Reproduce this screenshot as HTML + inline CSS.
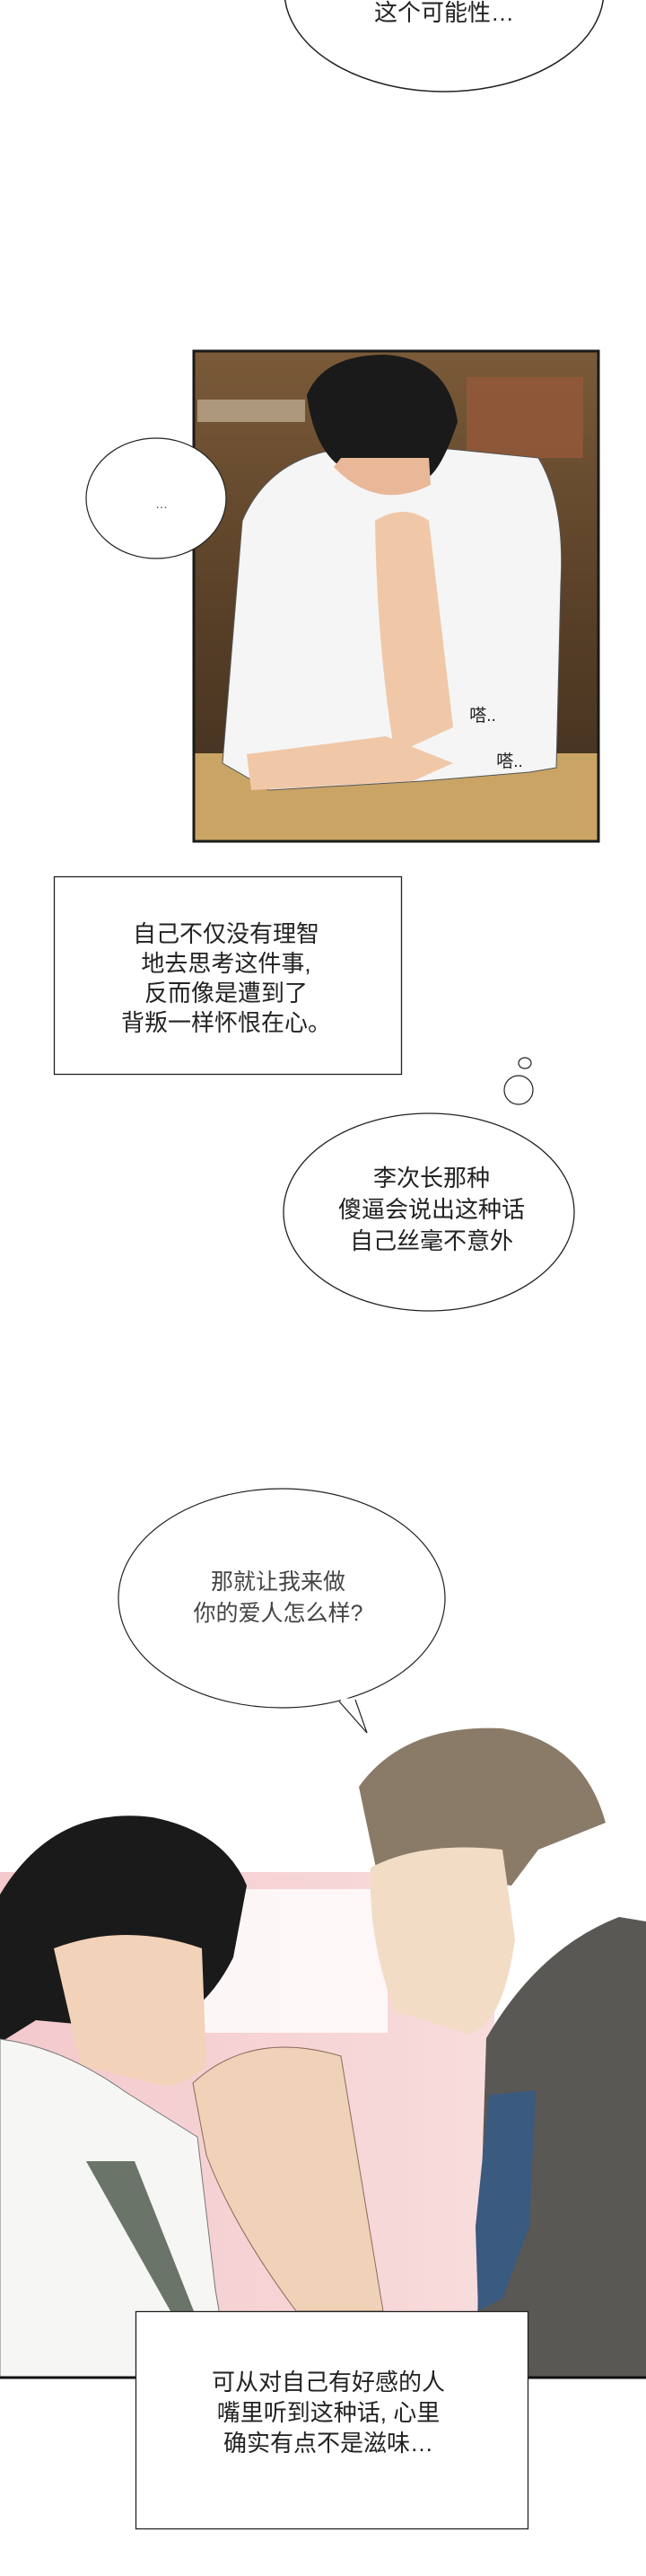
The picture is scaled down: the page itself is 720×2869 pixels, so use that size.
<!DOCTYPE html>
<html><head><meta charset="utf-8"><style>
html,body{margin:0;padding:0;background:#fff;}
body{width:720px;height:2869px;position:relative;overflow:hidden;font-family:"Liberation Sans","Noto Sans CJK SC",sans-serif;}
.t{position:absolute;text-align:center;color:#222;white-space:nowrap;}
</style></head><body>
<svg width="720" height="2869" style="position:absolute;left:0;top:0" xmlns="http://www.w3.org/2000/svg">
<defs>
<linearGradient id="bg1" x1="0" y1="0" x2="0" y2="1"><stop offset="0" stop-color="#7a5a38"/><stop offset="0.5" stop-color="#5a4128"/><stop offset="1" stop-color="#3e2e1e"/></linearGradient>
<linearGradient id="pk" x1="0" y1="0" x2="1" y2="0"><stop offset="0" stop-color="#f3c9cc"/><stop offset="1" stop-color="#f8dcdc"/></linearGradient>
</defs>
<!-- top bubble -->
<ellipse cx="495" cy="-10" rx="178" ry="112" fill="#fff" stroke="#222" stroke-width="1.5"/>
<!-- panel 1 -->
<rect x="216" y="391" width="451" height="546" fill="url(#bg1)"/>
<rect x="220" y="445" width="120" height="25" fill="#c8b59a" opacity="0.7"/>
<rect x="520" y="420" width="130" height="90" fill="#9a5a3a" opacity="0.7"/>
<rect x="216" y="839" width="451" height="98" fill="#c9a464"/>
<!-- shirt -->
<path d="M270 580 Q300 510 380 500 L500 500 L600 510 Q630 560 625 650 L620 855 L590 860 L470 870 L300 880 L248 850 Z" fill="#f5f5f5" stroke="#555" stroke-width="1"/>
<path d="M418 580 Q450 560 478 580 L505 810 L440 840 Q420 720 418 580 Z" fill="#f0c8a8"/>
<path d="M275 840 L430 820 L505 850 L460 870 L280 880 Z" fill="#f0c8a8"/>
<!-- hair -->
<path d="M342 440 Q360 395 430 395 Q500 400 510 470 Q490 530 470 536 L380 520 Q350 500 342 440 Z" fill="#1a1a1a"/>
<path d="M372 520 Q420 570 480 540 L478 510 L380 510 Z" fill="#e8b898"/>
<rect x="216" y="391" width="451" height="546" fill="none" stroke="#1a1a1a" stroke-width="3"/>
<!-- small bubble -->
<ellipse cx="174" cy="555" rx="78" ry="67" fill="#fff" stroke="#222" stroke-width="1.2"/>
<!-- text box 1 -->
<rect x="60.5" y="976.5" width="387" height="220" fill="#fff" stroke="#222" stroke-width="1.3"/>
<!-- thought bubble -->
<ellipse cx="478" cy="1350" rx="162" ry="110" fill="#fff" stroke="#222" stroke-width="1.3"/>
<circle cx="578" cy="1214" r="16" fill="#fff" stroke="#222" stroke-width="1.2"/>
<ellipse cx="585" cy="1184" rx="7" ry="6" fill="#fff" stroke="#222" stroke-width="1.2"/>
<!-- bubble 2 -->
<path d="M378 1895 L409 1930 L396 1893" fill="#fff" stroke="#222" stroke-width="1.2"/>
<ellipse cx="314" cy="1780" rx="182" ry="122" fill="#fff" stroke="#222" stroke-width="1.2"/>
<path d="M380 1893 L395 1893" stroke="#fff" stroke-width="3"/>
<!-- bottom panel art -->
<rect x="0" y="2085" width="551" height="563" fill="url(#pk)"/>
<rect x="220" y="2104" width="212" height="160" fill="#fff" opacity="0.8"/>
<!-- left guy -->
<path d="M0 2110 Q60 2010 170 2024 Q250 2040 275 2100 L260 2180 Q220 2260 150 2260 L40 2250 L0 2275 Z" fill="#1a1a1a"/>
<path d="M60 2170 Q140 2140 225 2170 L230 2300 Q200 2330 170 2320 L90 2300 Z" fill="#f2d2b8"/>
<path d="M0 2271 Q70 2280 140 2330 L220 2380 L240 2550 L257 2648 L0 2648 Z" fill="#f6f6f4" stroke="#777" stroke-width="1"/>
<path d="M96 2407 L150 2407 L216 2574 L190 2574 Z" fill="#6b7468"/>
<!-- hands -->
<path d="M215 2320 Q280 2260 380 2290 L427 2574 L330 2574 Q260 2480 230 2400 Z" fill="#f0d2b8" stroke="#8a6a5a" stroke-width="1"/>
<!-- right guy -->
<path d="M400 1990 Q450 1920 560 1925 Q650 1940 675 2030 L600 2060 L570 2100 L420 2085 Z" fill="#8a7a68"/>
<path d="M413 2080 Q470 2050 560 2060 L574 2160 Q560 2260 520 2265 L440 2240 Q410 2160 413 2080 Z" fill="#f3dcc6"/>
<path d="M542 2270 Q600 2170 690 2135 L720 2140 L720 2648 L530 2648 Z" fill="#5a5854"/>
<path d="M545 2333 L597 2328 L590 2480 L560 2560 L533 2574 L530 2480 Z" fill="#3a5a80"/>
<line x1="0" y1="2648" x2="720" y2="2648" stroke="#111" stroke-width="3"/>
<!-- text box 2 -->
<rect x="151.5" y="2574.5" width="437" height="242" fill="#fff" stroke="#222" stroke-width="1.3"/>
</svg>
<div class="t" style="left:370px;width:250px;top:-1px;font-size:26px;line-height:30px;">这个可能性…</div>
<div class="t" style="left:140px;width:80px;top:553px;font-size:14px;color:#444;">…</div>
<div class="t" style="left:518px;width:40px;top:782px;font-size:19px;color:#222;">嗒..</div>
<div class="t" style="left:548px;width:40px;top:833px;font-size:19px;color:#222;">嗒..</div>
<div class="t" style="left:102px;width:300px;top:1024px;font-size:26px;line-height:33px;">自己不仅没有理智<br>地去思考这件事,<br>反而像是遭到了<br>背叛一样怀恨在心。</div>
<div class="t" style="left:331px;width:300px;top:1295px;font-size:26px;line-height:35px;">李次长那种<br>傻逼会说出这种话<br>自己丝毫不意外</div>
<div class="t" style="left:160px;width:300px;top:1745px;font-size:25px;line-height:35px;color:#444;">那就让我来做<br>你的爱人怎么样?</div>
<div class="t" style="left:216px;width:300px;top:2636px;font-size:26px;line-height:34px;">可从对自己有好感的人<br>嘴里听到这种话, 心里<br>确实有点不是滋味…</div>
</body></html>
